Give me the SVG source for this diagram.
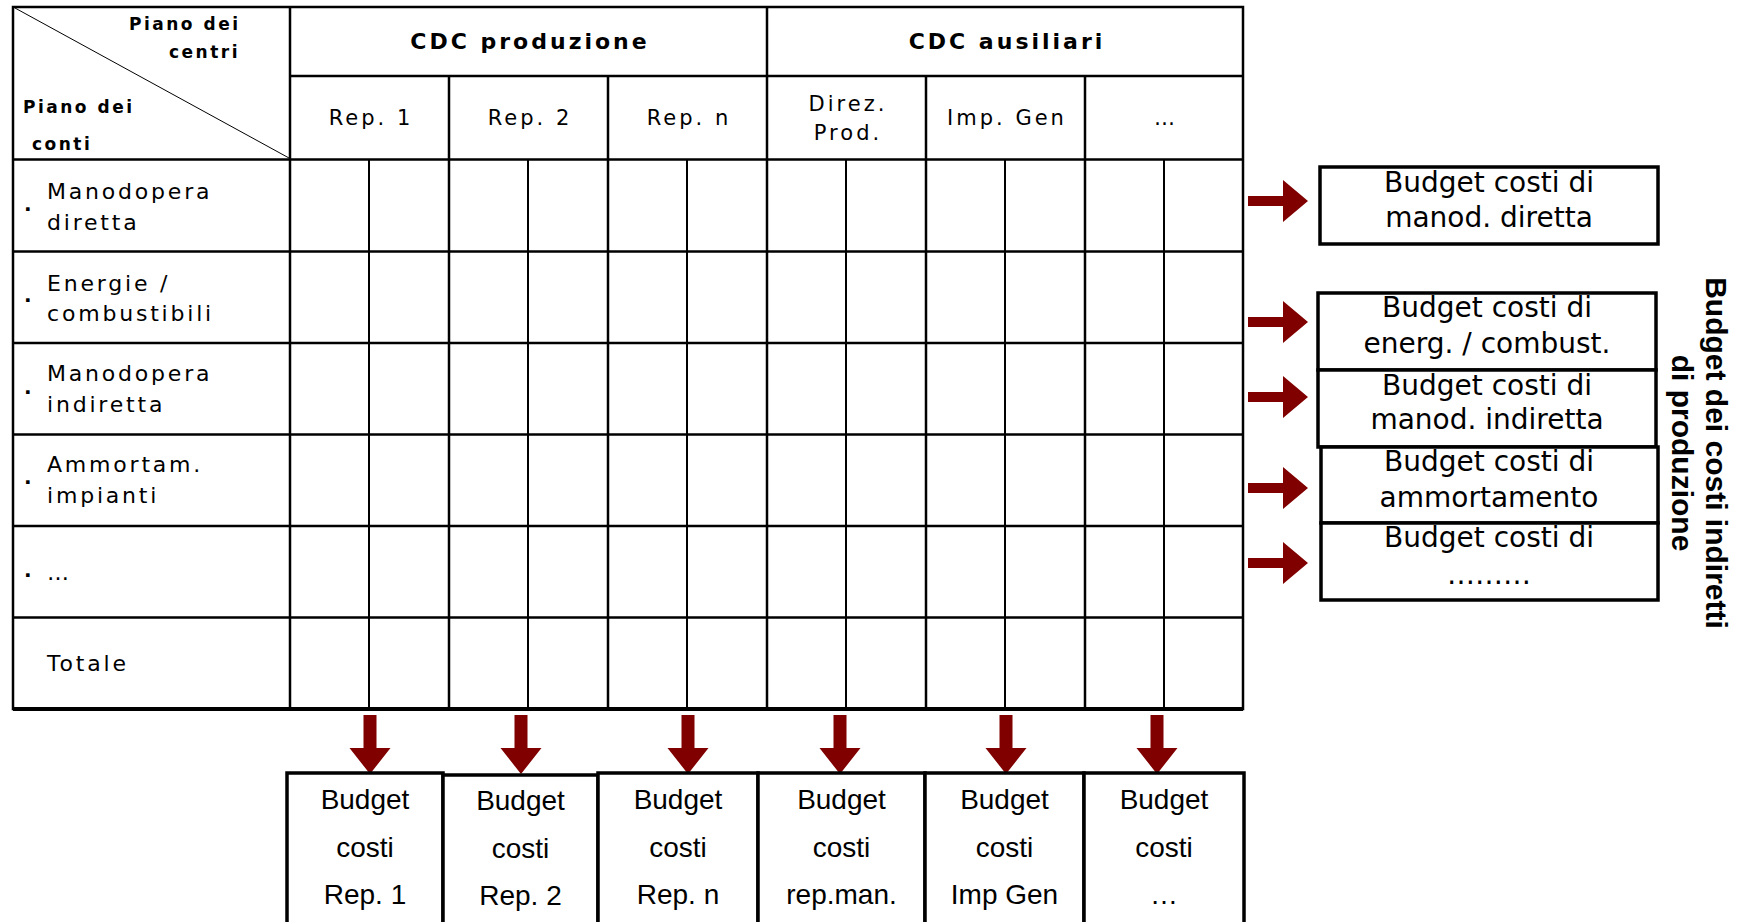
<svg xmlns="http://www.w3.org/2000/svg" width="1742" height="922" viewBox="0 0 1742 922">
<style>
.g{stroke:#000;stroke-width:2.5;fill:none}
.s{stroke:#000;stroke-width:2;fill:none}
.d{stroke:#000;stroke-width:1;fill:none}
.h{font-family:"DejaVu Sans",sans-serif;font-size:21px;letter-spacing:3px;fill:#000;text-anchor:middle}
.hb{font-family:"DejaVu Sans",sans-serif;font-size:22px;font-weight:bold;letter-spacing:3px;fill:#000;text-anchor:middle}
.pc{font-family:"DejaVu Sans",sans-serif;font-size:17px;font-weight:bold;letter-spacing:2.5px;fill:#000}
.l{font-family:"DejaVu Sans",sans-serif;font-size:22px;letter-spacing:2.8px;fill:#000}
.dot{font-family:"DejaVu Sans",sans-serif;font-size:20px;font-weight:bold;fill:#000}
.box{fill:#fff;stroke:#000;stroke-width:3.5}
.rt{font-family:"DejaVu Sans",sans-serif;font-size:28px;fill:#000;text-anchor:middle}
.bt{font-family:"Liberation Sans",Arial,sans-serif;font-size:28px;fill:#000;text-anchor:middle}
.vt{font-family:"Liberation Sans",Arial,sans-serif;font-size:30px;font-weight:bold;fill:#000;text-anchor:middle}
.ar{fill:#800000}
</style>
<defs>
<path id="ra" d="M0,-5 H35 V-21 L60,0 L35,21 V5 H0 Z"/>
<path id="da" d="M-6.5,0 H6.5 V33 H20.5 L0,59 L-20.5,33 H-6.5 Z"/>
</defs>

<g id="table">
<rect x="13" y="7" width="1230" height="702" class="g"/>
<line x1="13" y1="709" x2="1243" y2="709" stroke="#000" stroke-width="4"/>
<line x1="290" y1="76" x2="1243" y2="76" class="g"/>
<line x1="13" y1="159.5" x2="1243" y2="159.5" class="g"/>
<line x1="13" y1="251.5" x2="1243" y2="251.5" class="g"/>
<line x1="13" y1="343" x2="1243" y2="343" class="g"/>
<line x1="13" y1="434.5" x2="1243" y2="434.5" class="g"/>
<line x1="13" y1="526" x2="1243" y2="526" class="g"/>
<line x1="13" y1="617.5" x2="1243" y2="617.5" class="g"/>
<line x1="290" y1="7" x2="290" y2="709" class="g"/>
<line x1="767" y1="7" x2="767" y2="709" class="g"/>
<line x1="449" y1="76" x2="449" y2="709" class="g"/>
<line x1="608" y1="76" x2="608" y2="709" class="g"/>
<line x1="926" y1="76" x2="926" y2="709" class="g"/>
<line x1="1085" y1="76" x2="1085" y2="709" class="g"/>
<line x1="369" y1="159.5" x2="369" y2="709" class="s"/>
<line x1="528" y1="159.5" x2="528" y2="709" class="s"/>
<line x1="687" y1="159.5" x2="687" y2="709" class="s"/>
<line x1="846" y1="159.5" x2="846" y2="709" class="s"/>
<line x1="1005" y1="159.5" x2="1005" y2="709" class="s"/>
<line x1="1164" y1="159.5" x2="1164" y2="709" class="s"/>
<line x1="15" y1="8" x2="289" y2="158" class="d"/>
</g>

<g id="header">
<text class="pc" x="129" y="30">Piano dei</text>
<text class="pc" x="169" y="58">centri</text>
<text class="pc" x="23" y="113">Piano dei</text>
<text class="pc" x="32" y="150">conti</text>
<text class="hb" x="530" y="49">CDC produzione</text>
<text class="hb" x="1007" y="49">CDC ausiliari</text>
<text class="h" x="371" y="125">Rep. 1</text>
<text class="h" x="530" y="125">Rep. 2</text>
<text class="h" x="689" y="125">Rep. n</text>
<text class="h" x="848" y="111">Direz.</text>
<text class="h" x="848" y="140">Prod.</text>
<text class="h" x="1007" y="125">Imp. Gen</text>
<text class="h" x="1166" y="125">…</text>
</g>

<g id="rows">
<text class="dot" x="24" y="211">.</text>
<text class="l" x="47" y="199">Manodopera</text>
<text class="l" x="47" y="230">diretta</text>
<text class="dot" x="24" y="302">.</text>
<text class="l" x="47" y="291">Energie /</text>
<text class="l" x="47" y="321">combustibili</text>
<text class="dot" x="24" y="394">.</text>
<text class="l" x="47" y="381">Manodopera</text>
<text class="l" x="47" y="412">indiretta</text>
<text class="dot" x="24" y="484">.</text>
<text class="l" x="47" y="472">Ammortam.</text>
<text class="l" x="47" y="503">impianti</text>
<text class="dot" x="24" y="577">.</text>
<text class="l" x="47" y="580">…</text>
<text class="l" x="47" y="671">Totale</text>
</g>

<g id="connectors">
<use href="#ra" x="1248" y="201" class="ar"/>
<use href="#ra" x="1248" y="322" class="ar"/>
<use href="#ra" x="1248" y="397" class="ar"/>
<use href="#ra" x="1248" y="488" class="ar"/>
<use href="#ra" x="1248" y="563" class="ar"/>
<use href="#da" x="370" y="715" class="ar"/>
<use href="#da" x="521" y="715" class="ar"/>
<use href="#da" x="688" y="715" class="ar"/>
<use href="#da" x="840" y="715" class="ar"/>
<use href="#da" x="1006" y="715" class="ar"/>
<use href="#da" x="1157" y="715" class="ar"/>
</g>

<g id="rb1"><rect class="box" x="1320" y="167" width="338" height="77"/>
<text class="rt" x="1489" y="192">Budget costi di</text><text class="rt" x="1489" y="227">manod. diretta</text></g>
<g id="rb2"><rect class="box" x="1318" y="293" width="338" height="77"/>
<text class="rt" x="1487" y="317">Budget costi di</text><text class="rt" x="1487" y="353">energ. / combust.</text></g>
<g id="rb3"><rect class="box" x="1318" y="370" width="338" height="77"/>
<text class="rt" x="1487" y="395">Budget costi di</text><text class="rt" x="1487" y="429">manod. indiretta</text></g>
<g id="rb4"><rect class="box" x="1321" y="447" width="337" height="76"/>
<text class="rt" x="1489" y="471">Budget costi di</text><text class="rt" x="1489" y="507">ammortamento</text></g>
<g id="rb5"><rect class="box" x="1321" y="523" width="337" height="77"/>
<text class="rt" x="1489" y="547">Budget costi di</text><text class="rt" x="1489" y="584">………</text></g>

<g id="label-right">
<text class="vt" transform="translate(1706,453) rotate(90)">Budget dei costi indiretti</text>
<text class="vt" transform="translate(1672,453) rotate(90)">di produzione</text>
</g>

<g id="bb1"><rect class="box" x="287" y="773" width="156" height="160"/>
<text class="bt" x="365" y="809">Budget</text><text class="bt" x="365" y="857">costi</text><text class="bt" x="365" y="904">Rep. 1</text></g>
<g id="bb2"><rect class="box" x="443" y="775" width="155" height="160"/>
<text class="bt" x="520.5" y="810">Budget</text><text class="bt" x="520.5" y="858">costi</text><text class="bt" x="520.5" y="905">Rep. 2</text></g>
<g id="bb3"><rect class="box" x="598" y="773" width="160" height="160"/>
<text class="bt" x="678" y="809">Budget</text><text class="bt" x="678" y="857">costi</text><text class="bt" x="678" y="904">Rep. n</text></g>
<g id="bb4"><rect class="box" x="758" y="773" width="167" height="160"/>
<text class="bt" x="841.5" y="809">Budget</text><text class="bt" x="841.5" y="857">costi</text><text class="bt" x="841.5" y="904">rep.man.</text></g>
<g id="bb5"><rect class="box" x="925" y="773" width="159" height="160"/>
<text class="bt" x="1004.5" y="809">Budget</text><text class="bt" x="1004.5" y="857">costi</text><text class="bt" x="1004.5" y="904">Imp Gen</text></g>
<g id="bb6"><rect class="box" x="1084" y="773" width="160" height="160"/>
<text class="bt" x="1164" y="809">Budget</text><text class="bt" x="1164" y="857">costi</text><text class="bt" x="1164" y="904">…</text></g>
</svg>
